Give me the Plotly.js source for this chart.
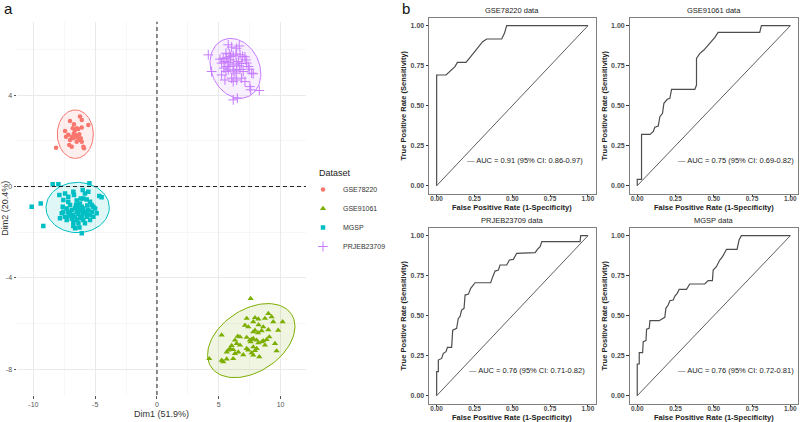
<!DOCTYPE html>
<html>
<head>
<meta charset="utf-8">
<script src="https://cdn.plot.ly/plotly-3.0.1.min.js"></script>
<style>
body{margin:0;background:#fff}
#chart{width:800px;height:422px}
</style>
</head>
<body>
<div id="chart"></div>
<script>
// ---------- panel a : PCA of individuals ----------
var datasets = ["GSE78220", "GSE91061", "MGSP", "PRJEB23709"];
var colors   = ["#F8766D", "#7CAE00", "#00BFC4", "#C77CFF"];
var symbols  = ["circle", "triangle-up", "square", "cross-thin"];

var gse78220X = [-7.04,-6.23,-6.09,-6.72,-6.50,-6.82,-6.63,-6.37,-6.09,-5.56,-7.44,-7.18,-6.90,-6.72,-6.63,-6.55,-6.45,-6.29,-6.17,-6.77,-7.04,-7.10,-6.90,-6.50,-6.23,-6.09,-5.96,-5.91,-8.17,-7.36];
var gse78220Y = [2.87,3.06,2.91,2.72,2.55,2.55,2.47,2.52,2.58,2.69,2.43,2.26,2.18,2.33,2.26,2.23,2.14,2.29,2.11,2.11,2.04,1.82,1.74,1.96,2.04,1.96,1.74,1.67,1.70,2.18];

var gse91061X = [7.58,9.01,9.28,8.74,7.93,8.20,7.26,7.79,7.12,7.39,8.22,8.60,9.41,10.17,5.23,6.53,6.72,7.26,7.79,7.93,8.18,8.47,9.01,9.81,7.52,7.66,7.58,7.79,8.07,8.20,8.47,8.60,8.87,6.31,6.45,6.72,6.04,5.91,5.77,5.64,6.17,6.31,6.58,7.26,7.39,7.79,7.93,8.07,8.74,9.55,9.68,7.66,7.79,8.28,6.98,6.17,5.64,5.23,5.36,4.23,9.09];
var gse91061Y = [-4.90,-5.56,-5.70,-5.77,-5.74,-5.80,-5.77,-5.92,-6.07,-6.14,-6.05,-6.14,-5.92,-5.92,-6.50,-6.55,-6.58,-6.60,-6.36,-6.29,-6.40,-6.31,-6.27,-6.29,-6.72,-6.69,-6.80,-6.65,-6.72,-6.84,-6.80,-6.75,-6.70,-6.72,-6.87,-6.94,-6.96,-7.09,-7.16,-7.24,-7.14,-7.31,-7.24,-7.09,-7.16,-7.02,-7.18,-7.09,-6.94,-6.87,-7.19,-7.28,-7.38,-7.45,-7.36,-7.53,-7.55,-7.60,-7.67,-7.53,-6.58];

var mgspX = [-8.44,-7.98,-5.47,-10.14,-9.41,-9.20,-7.90,-7.44,-6.77,-6.72,-6.01,-5.83,-5.56,-4.67,-4.48,-7.58,-7.18,-7.04,-6.50,-6.23,-5.96,-5.69,-5.42,-5.28,-5.15,-4.88,-7.31,-7.18,-7.04,-6.90,-6.63,-6.50,-6.36,-6.23,-6.09,-5.96,-5.83,-5.69,-5.56,-5.42,-7.71,-7.85,-7.44,-7.31,-6.90,-6.77,-6.63,-6.50,-6.36,-6.23,-6.09,-5.96,-5.83,-5.69,-6.77,-6.63,-6.28,-6.09,-7.58,-5.15,-5.01,-6.17,-6.01,-5.28,-6.82,-6.55,-5.64,-7.10,-6.42,-5.42,-7.63,-7.18];
var mgspY = [0.10,0.10,0.14,-0.88,-0.74,-1.73,-0.37,-0.30,-0.23,-0.37,-0.15,-0.30,-0.23,-0.42,-0.47,-0.59,-0.67,-0.81,-0.61,-0.74,-0.52,-0.57,-0.67,-0.81,-0.88,-1.17,-0.96,-1.12,-1.17,-1.03,-0.94,-1.10,-1.19,-1.03,-0.88,-0.96,-1.10,-1.15,-1.03,-1.25,-1.17,-1.39,-1.32,-1.47,-1.41,-1.54,-1.32,-1.47,-1.61,-1.39,-1.34,-1.47,-1.61,-1.32,-1.73,-1.83,-1.79,-2.04,-1.10,-1.32,-0.96,-0.52,-1.17,-1.10,-1.25,-0.81,-0.83,-1.28,-0.91,-1.47,-0.88,-0.45];

var prjebX = [4.15,5.77,6.04,6.45,6.66,5.58,5.85,5.36,5.64,5.96,6.17,6.39,6.72,6.93,7.12,5.10,5.23,5.50,5.77,5.91,6.17,6.45,6.58,6.85,7.26,7.39,5.42,5.58,5.77,6.17,6.31,6.45,6.72,6.98,7.66,7.79,5.23,5.50,6.04,6.17,6.45,6.85,7.12,7.52,7.58,8.28,4.42,6.17,6.50,5.69,6.66,7.20,7.47,5.96];
var prjebY = [5.76,6.20,6.10,6.05,6.15,5.83,5.80,5.61,5.63,5.69,5.72,5.80,5.76,5.69,5.67,5.57,5.40,5.47,5.42,5.25,5.32,5.40,5.47,5.38,5.40,5.25,5.18,5.03,5.10,5.05,4.96,5.10,5.12,5.03,4.96,4.93,4.88,4.66,4.74,4.59,4.66,4.74,4.59,4.37,4.23,4.20,5.03,3.79,3.86,5.25,5.28,5.54,5.13,5.54];

var groupX = [gse78220X, gse91061X, mgspX, prjebX];
var groupY = [gse78220Y, gse91061Y, mgspY, prjebY];

// concentration ellipses: centre and two conjugate semi-axes (Dim1, Dim2)
var ellipseCenter = [[-6.61, 2.29], [7.63, -6.74], [-6.42, -0.92], [6.35, 5.17]];
var ellipseU      = [[1.46, 0], [3.26, 1.15], [2.56, 0], [-1.06, 1.23]];
var ellipseV      = [[0, 1.06], [-1.37, 1.14], [0, 1.10], [1.76, 0.45]];

var pcaXTicks = [-10, -5, 0, 5, 10];
var pcaXTickText = ["-10", "-5", "0", "5", "10"];
var pcaYTicks = [-8, -4, 0, 4];
var pcaYTickText = ["-8", "-4", "0", "4"];

// ---------- panel b : ROC curves ----------
var rocTitles = ["GSE78220 data", "GSE91061 data", "PRJEB23709 data", "MGSP data"];
var auc    = ["0.91", "0.75", "0.76", "0.76"];
var ciLow  = ["0.86", "0.69", "0.71", "0.72"];
var ciHigh = ["0.97", "0.82", "0.82", "0.81"];

var roc1Fpr = [0,0,0.062,0.088,0.121,0.137,0.194,0.221,0.243,0.269,0.304,0.331,0.430,0.448,0.463,1];
var roc1Tpr = [0,0.692,0.692,0.717,0.744,0.771,0.771,0.802,0.827,0.854,0.900,0.917,0.917,0.952,1,1];

var roc2Fpr = [0,0,0.028,0.028,0.083,0.104,0.115,0.137,0.148,0.165,0.174,0.196,0.213,0.224,0.376,0.387,0.387,0.409,0.435,0.463,0.485,0.507,0.528,0.800,0.811,1];
var roc2Tpr = [0,0.04,0.04,0.321,0.321,0.338,0.365,0.373,0.431,0.452,0.515,0.540,0.546,0.602,0.602,0.629,0.796,0.827,0.848,0.879,0.900,0.927,0.958,0.958,1,1];

var roc3Fpr = [0,0,0.011,0.011,0.033,0.044,0.062,0.071,0.099,0.106,0.132,0.143,0.154,0.165,0.181,0.188,0.210,0.225,0.254,0.357,0.371,0.386,0.408,0.419,0.463,0.481,0.507,0.529,0.651,0.666,0.684,0.695,0.948,0.952,1];
var roc3Tpr = [0,0.150,0.150,0.223,0.233,0.265,0.275,0.302,0.302,0.410,0.421,0.483,0.494,0.535,0.546,0.629,0.635,0.671,0.706,0.706,0.744,0.779,0.785,0.817,0.817,0.848,0.852,0.890,0.894,0.915,0.931,0.963,0.963,1,1];

var roc4Fpr = [0,0,0.013,0.013,0.035,0.039,0.057,0.061,0.078,0.083,0.143,0.165,0.180,0.187,0.202,0.213,0.235,0.246,0.261,0.274,0.322,0.343,0.441,0.463,0.491,0.496,0.517,0.539,0.557,0.583,0.652,0.665,0.680,1];
var roc4Tpr = [0,0.198,0.198,0.269,0.269,0.338,0.344,0.415,0.421,0.469,0.469,0.483,0.490,0.546,0.567,0.594,0.598,0.623,0.640,0.665,0.665,0.698,0.698,0.719,0.719,0.785,0.806,0.848,0.869,0.915,0.915,0.973,1,1];

var rocFpr = [roc1Fpr, roc2Fpr, roc3Fpr, roc4Fpr];
var rocTpr = [roc1Tpr, roc2Tpr, roc3Tpr, roc4Tpr];
var chance = [0, 1];

var rocTicks = [0, 0.25, 0.5, 0.75, 1];
var rocTickText = ["0.00", "0.25", "0.50", "0.75", "1.00"];

var narrow = "Liberation Sans Narrow, Arial Narrow, Liberation Sans, Arial, sans-serif";
var sans = "Liberation Sans, Arial, sans-serif";

// ---------- traces ----------
var data = [];

function ellipse(k){
    var xs = [], ys = [];
    for (var i = 0; i <= 100; i++){
        var t = 2 * Math.PI * i / 100;
        xs.push(ellipseCenter[k][0] + ellipseU[k][0] * Math.cos(t) + ellipseV[k][0] * Math.sin(t));
        ys.push(ellipseCenter[k][1] + ellipseU[k][1] * Math.cos(t) + ellipseV[k][1] * Math.sin(t));
    }
    return {xs: xs, ys: ys};
}

function fade(hex, a){
    var r = parseInt(hex.substr(1,2),16), g = parseInt(hex.substr(3,2),16), b = parseInt(hex.substr(5,2),16);
    return "rgba(" + r + "," + g + "," + b + "," + a + ")";
}

for (var k = 0; k < datasets.length; k++){
    var e = ellipse(k);
    data.push({
        x: e.xs, y: e.ys, xaxis: "x", yaxis: "y",
        type: "scatter", mode: "lines", fill: "toself",
        fillcolor: fade(colors[k], 0.12),
        line: {color: colors[k], width: 1},
        showlegend: false, hoverinfo: "skip"
    });
}
for (var k = 0; k < datasets.length; k++){
    var isCross = symbols[k] === "cross-thin";
    data.push({
        x: groupX[k], y: groupY[k], xaxis: "x", yaxis: "y",
        type: "scatter", mode: "markers", name: datasets[k],
        marker: {
            symbol: symbols[k], color: colors[k],
            size: isCross ? 7 : (symbols[k] === "triangle-up" ? 5.5 : 4.5),
            line: {color: colors[k], width: isCross ? 1 : 0}
        }
    });
}

var rocAxes = [["x2","y2"], ["x3","y3"], ["x4","y4"], ["x5","y5"]];
for (var p = 0; p < 4; p++){
    data.push({
        x: chance, y: chance, xaxis: rocAxes[p][0], yaxis: rocAxes[p][1],
        type: "scatter", mode: "lines", line: {color: "#333", width: 0.8},
        showlegend: false, hoverinfo: "skip"
    });
    data.push({
        x: rocFpr[p], y: rocTpr[p], xaxis: rocAxes[p][0], yaxis: rocAxes[p][1],
        type: "scatter", mode: "lines", line: {color: "#4d4d4d", width: 1.2},
        showlegend: false
    });
}

// ---------- layout ----------
var W = 800, H = 422;
function px(a, b){ return [a / W, b / W]; }
function py(top, bottom){ return [1 - bottom / H, 1 - top / H]; }

function rocX(dom, anchor){
    return {
        domain: dom, anchor: anchor, range: [-0.05, 1.05],
        tickmode: "array", tickvals: rocTicks, ticktext: rocTickText,
        ticks: "outside", ticklen: 2, tickcolor: "#333", ticklabelstandoff: -4,
        tickfont: {family: sans, size: 6.5, color: "#4d4d4d", weight: "bold"},
        showgrid: false, zeroline: false,
        showline: true, mirror: true, linecolor: "#7f7f7f", linewidth: 1
    };
}
function rocY(dom, anchor){
    return {
        domain: dom, anchor: anchor, range: [-0.05, 1.05],
        tickmode: "array", tickvals: rocTicks, ticktext: rocTickText,
        ticks: "outside", ticklen: 2.5, tickcolor: "#333",
        tickfont: {family: sans, size: 7, color: "#4d4d4d", weight: "bold"},
        showgrid: false, zeroline: false,
        showline: true, mirror: true, linecolor: "#7f7f7f", linewidth: 1,
        title: {text: "True Positive Rate (Sensitivity)", standoff: 2,
                font: {family: sans, size: 7.5, color: "#222", weight: "bold"}}
    };
}

var colL = px(429.1, 595.5), colR = px(629.6, 798.0);
var rowT = py(17.7, 193.7), rowB = py(227.7, 403.7);

var annotations = [
    {text: "a", x: 2 / W, y: 1 + 2 / H, xref: "paper", yref: "paper", xanchor: "left", yanchor: "top",
     showarrow: false, font: {family: sans, size: 15, color: "#111"}},
    {text: "b", x: 400 / W, y: 1 + 2 / H, xref: "paper", yref: "paper", xanchor: "left", yanchor: "top",
     showarrow: false, font: {family: sans, size: 15, color: "#111"}},
    {text: "Dataset", x: 317 / W, y: 1 - 173 / H, xref: "paper", yref: "paper", xanchor: "left", yanchor: "middle",
     showarrow: false, font: {family: narrow, size: 9, color: "#222"}}
];
var aucX = [0.19, 0.25, 0.20, 0.25];
var titleY = [10, 10, 220, 220];      // px from top, panel titles
var xTitleY = [207.5, 207.5, 417.5, 417.5]; // px from top, x-axis titles
for (var p = 0; p < 4; p++){
    annotations.push({
        text: rocTitles[p], x: 0.5, y: 1 - titleY[p] / H, xref: rocAxes[p][0] + " domain", yref: "paper",
        xanchor: "center", yanchor: "middle", showarrow: false,
        font: {family: sans, size: 7.5, color: "#222"}
    });
    annotations.push({
        text: "False Positive Rate (1-Specificity)", x: 0.5, y: 1 - xTitleY[p] / H,
        xref: rocAxes[p][0] + " domain", yref: "paper",
        xanchor: "center", yanchor: "middle", showarrow: false,
        font: {family: sans, size: 7.5, color: "#222", weight: "bold"}
    });
    annotations.push({
        text: "<span style='color:#666'>\u2014</span> AUC = " + auc[p] + " (95% CI: " + ciLow[p] + "-" + ciHigh[p] + ")",
        x: aucX[p], y: 0.16, xref: rocAxes[p][0], yref: rocAxes[p][1],
        xanchor: "left", yanchor: "middle", showarrow: false,
        font: {family: sans, size: 7.5, color: "#222"}
    });
}

var layout = {
    width: W, height: H,
    margin: {l: 0, r: 0, t: 0, b: 0},
    paper_bgcolor: "#fff", plot_bgcolor: "#fff",
    showlegend: true,
    legend: {x: 303 / W, y: 1 - 175 / H, xanchor: "left", yanchor: "top",
             font: {family: narrow, size: 7, color: "#333"}, itemwidth: 30,
             bgcolor: "rgba(0,0,0,0)", borderwidth: 0},
    xaxis: {
        domain: px(17, 306), anchor: "y", range: [-11.33, 12.06],
        tickmode: "array", tickvals: pcaXTicks, ticktext: pcaXTickText,
        ticks: "outside", ticklen: 2.5, tickcolor: "#555",
        tickfont: {family: narrow, size: 7, color: "#555"},
        showgrid: true, gridcolor: "#EAEAEA", gridwidth: 1, zeroline: false, showline: false,
        minor: {tickmode: "array", tickvals: [-7.5, -2.5, 2.5, 7.5], showgrid: true, gridcolor: "#F4F4F4", gridwidth: 0.7, ticks: ""},
        title: {text: "Dim1 (51.9%)", standoff: 3, font: {family: narrow, size: 9, color: "#333"}}
    },
    yaxis: {
        domain: py(21.7, 395), anchor: "x", range: [-9.12, 7.21],
        tickmode: "array", tickvals: pcaYTicks, ticktext: pcaYTickText,
        ticks: "outside", ticklen: 2.5, tickcolor: "#555",
        tickfont: {family: narrow, size: 7, color: "#555"},
        showgrid: true, gridcolor: "#EAEAEA", gridwidth: 1, zeroline: false, showline: false,
        minor: {tickmode: "array", tickvals: [-6, -2, 2, 6], showgrid: true, gridcolor: "#F4F4F4", gridwidth: 0.7, ticks: ""},
        title: {text: "Dim2 (20.4%)", standoff: 2, font: {family: narrow, size: 9, color: "#333"}}
    },
    xaxis2: rocX(colL, "y2"), yaxis2: rocY(rowT, "x2"),
    xaxis3: rocX(colR, "y3"), yaxis3: rocY(rowT, "x3"),
    xaxis4: rocX(colL, "y4"), yaxis4: rocY(rowB, "x4"),
    xaxis5: rocX(colR, "y5"), yaxis5: rocY(rowB, "x5"),
    shapes: [
        {type: "line", xref: "x", yref: "y domain", x0: 0, x1: 0, y0: 0, y1: 1,
         line: {color: "#222", width: 1, dash: "4px,3px"}},
        {type: "line", xref: "x domain", yref: "y", x0: 0, x1: 1, y0: 0, y1: 0,
         line: {color: "#222", width: 1, dash: "4px,3px"}}
    ],
    annotations: annotations
};

Plotly.newPlot("chart", data, layout, {staticPlot: true, displayModeBar: false});
</script>
</body>
</html>
